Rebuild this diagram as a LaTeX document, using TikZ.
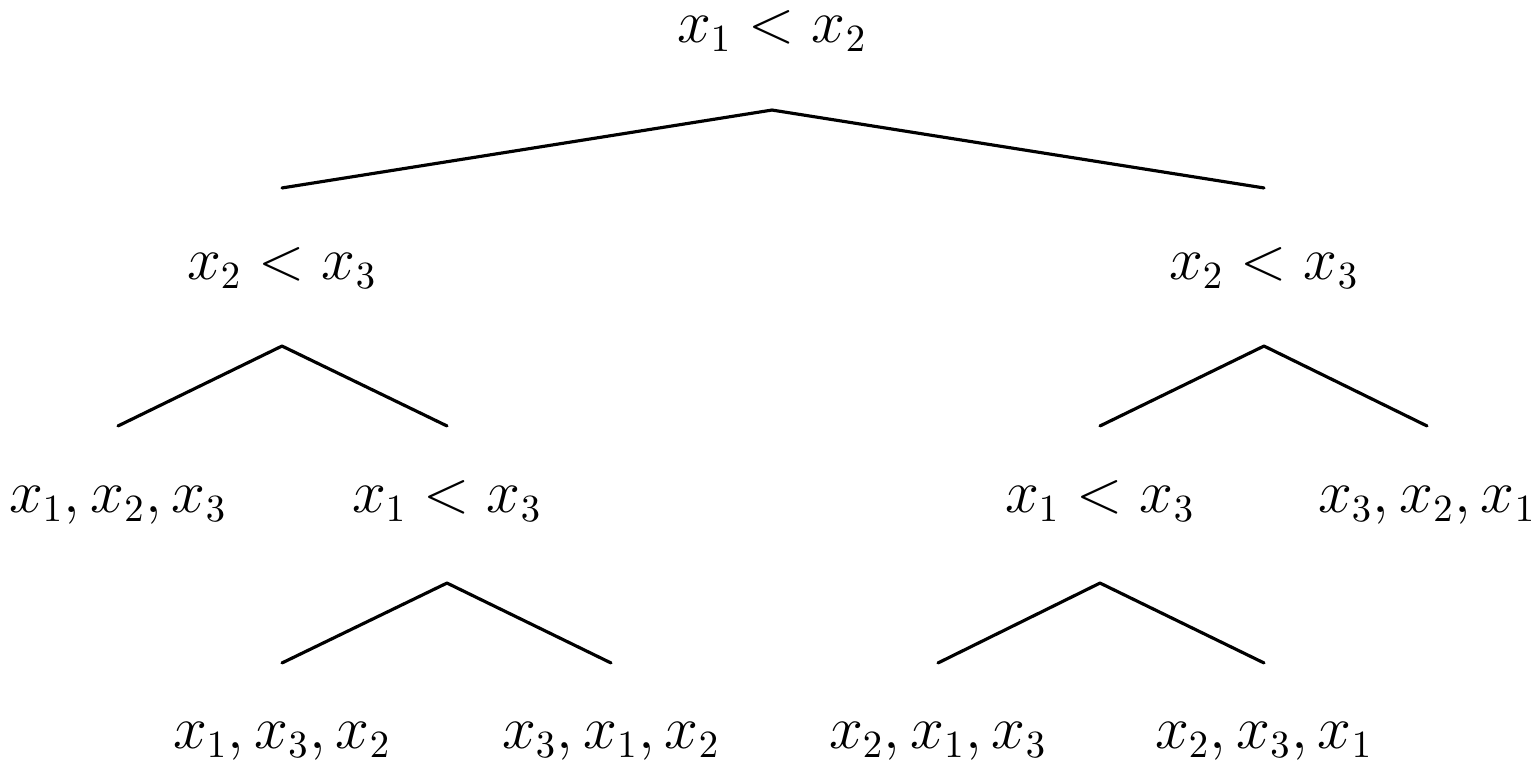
\documentclass[tikz,border=0pt]{standalone}
\begin{document}
\begin{tikzpicture}[x=0.01cm,y=-0.01cm,
  lbl/.style={anchor=base,inner sep=0pt,font=\fontsize{16.3}{19}\selectfont},
  branch/.style={line width=0.9pt,line join=round,line cap=round}]
\path[use as bounding box] (0,0) rectangle (1536,760);

% comparison nodes and leaf orderings
\node[lbl] (root) at (772,42)  {$x_1 < x_2$};
\node[lbl] (L)    at (282,279) {$x_2 < x_3$};
\node[lbl] (R)    at (1264,279) {$x_2 < x_3$};
\node[lbl] (LL)   at (118,512) {$x_1, x_2, x_3$};
\node[lbl] (LR)   at (447,512) {$x_1 < x_3$};
\node[lbl] (RL)   at (1100,512) {$x_1 < x_3$};
\node[lbl] (RR)   at (1427,512) {$x_3, x_2, x_1$};
\node[lbl] (LRL)  at (282,748) {$x_1, x_3, x_2$};
\node[lbl] (LRR)  at (611,748) {$x_3, x_1, x_2$};
\node[lbl] (RLL)  at (938,748) {$x_2, x_1, x_3$};
\node[lbl] (RLR)  at (1264,748) {$x_2, x_3, x_1$};

% branches
\draw[branch] ([yshift=0.91cm]L.base) -- ([yshift=-0.68cm]root.base) -- ([yshift=0.91cm]R.base);
\draw[branch] ([yshift=0.86cm]LL.base) -- ([yshift=-0.67cm]L.base) -- ([yshift=0.86cm]LR.base);
\draw[branch] ([yshift=0.86cm]RL.base) -- ([yshift=-0.67cm]R.base) -- ([yshift=0.86cm]RR.base);
\draw[branch] ([yshift=0.85cm]LRL.base) -- ([yshift=-0.71cm]LR.base) -- ([yshift=0.85cm]LRR.base);
\draw[branch] ([yshift=0.85cm]RLL.base) -- ([yshift=-0.71cm]RL.base) -- ([yshift=0.85cm]RLR.base);
\end{tikzpicture}
\end{document}
